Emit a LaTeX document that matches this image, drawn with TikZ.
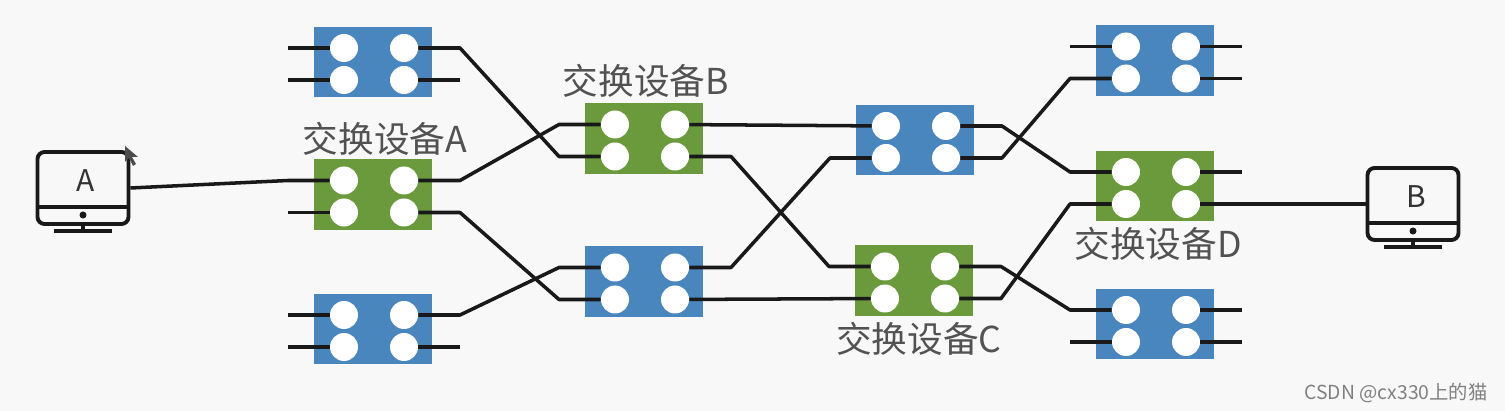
\documentclass[tikz,border=0pt]{standalone}
\usepackage{fontspec}
\setmainfont{Noto Sans CJK SC}
\definecolor{bluebox}{HTML}{4A86BE}
\definecolor{greenbox}{HTML}{6A9A3C}
\definecolor{paper}{HTML}{F8F8F8}
\tikzset{
  switchbox/.style={
    shape = rectangle,
    minimum width = 2.36cm,
    minimum height = 1.42cm,
    inner sep = 0pt
  },
  port/.style={
    shape = circle,
    minimum size = 0.56cm,
    inner sep = 0pt,
    fill = white
  },
  wire/.style={
    line width = 2pt,
    black!90,
    line join = round
  },
  monitor/.style={
    shape = rectangle,
    draw = black!90,
    line width = 2.2pt,
    rounded corners = 4pt,
    minimum width = 1.82cm,
    minimum height = 1.44cm,
    inner sep = 0pt
  },
  pcpart/.style={
    line width = 2.2pt,
    black!90
  },
  devlabel/.style={
    font = \fontsize{20.3}{20.3}\selectfont,
    text = black!68,
    inner sep = 0pt
  },
  pclabel/.style={
    font = \fontsize{17}{17}\selectfont,
    text = black!80,
    inner sep = 0pt
  },
}
\begin{document}
\begin{tikzpicture}[x=0.02cm,y=-0.02cm]
  \useasboundingbox[fill=paper] (0,0) rectangle (1505,411);
  \foreach \n/\x/\y/\c in {s1/373/62/bluebox,swA/373/194.5/greenbox,s3/373/329/bluebox,
    swB/644/138.5/greenbox,s5/644/281.5/bluebox,s6/915/140/bluebox,swC/914/280.5/greenbox,
    s8/1155/60.5/bluebox,swD/1155/186/greenbox,s10/1155/324/bluebox}{
    \node[switchbox,fill=\c] (\n) at (\x,\y) {};
    \node[port] (\n-lu) at (\x-29,\y-14) {};
    \node[port] (\n-ld) at (\x-29,\y+18) {};
    \node[port] (\n-ru) at (\x+31,\y-14) {};
    \node[port] (\n-rd) at (\x+31,\y+18) {};
    \coordinate (\n-lus) at (\x-85,\y-14);
    \coordinate (\n-lds) at (\x-85,\y+18);
    \coordinate (\n-rus) at (\x+87,\y-14);
    \coordinate (\n-rds) at (\x+87,\y+18);
  }
  % free stubs
  \foreach \a/\b in {s1-lu/s1-lus,s1-ld/s1-lds,s1-rd/s1-rds,swA-ld/swA-lds,s3-lu/s3-lus,s3-ld/s3-lds,s3-rd/s3-rds,
    s8-lu/s8-lus,s8-ru/s8-rus,s8-rd/s8-rds,swD-ru/swD-rus,s10-ld/s10-lds,s10-ru/s10-rus,s10-rd/s10-rds}{
    \draw[wire] (\a) -- (\b);
  }
  % links between switches
  \draw[wire] (s1-ru) -- (s1-rus) -- (swB-lds) -- (swB-ld);
  \draw[wire] (swA-ru) -- (swA-rus) -- (swB-lus) -- (swB-lu);
  \draw[wire] (swA-rd) -- (swA-rds) -- (s5-lds) -- (s5-ld);
  \draw[wire] (s3-ru) -- (s3-rus) -- (s5-lus) -- (s5-lu);
  \draw[wire] (swB-ru) -- (s6-lu);
  \draw[wire] (swB-rd) -- (swB-rds) -- (swC-lus) -- (swC-lu);
  \draw[wire] (s5-ru) -- (s5-rus) -- (s6-lds) -- (s6-ld);
  \draw[wire] (s5-rd) -- (swC-ld);
  \draw[wire] (s6-ru) -- (s6-rus) -- (swD-lus) -- (swD-lu);
  \draw[wire] (s6-rd) -- (s6-rds) -- (s8-lds) -- (s8-ld);
  \draw[wire] (swC-ru) -- (swC-rus) -- (s10-lus) -- (s10-lu);
  \draw[wire] (swC-rd) -- (swC-rds) -- (swD-lds) -- (swD-ld);
  % the two computers
  \foreach \p/\x/\y/\t in {pcA/83/188/A,pcB/1413/204/B}{
    \node[monitor] (\p) at (\x,\y) {};
    \node[pclabel] (\p-name) at (\x+3,\y-7) {\t};
    \coordinate (\p-l) at (\x-46,\y+19);
    \coordinate (\p-r) at (\x+46,\y+19);
    \coordinate (\p-foot) at (\x,\y+43);
    \coordinate (\p-footl) at (\x-29,\y+43);
    \coordinate (\p-footr) at (\x+29,\y+43);
    \draw[pcpart,line width=1.8pt] (\p-l) -- (\p-r);
    \draw[pcpart] (\p.south) -- (\p-foot);
    \draw[pcpart] (\p-footl) -- (\p-footr);
    \node[circle,fill=black!90,minimum size=0.14cm,inner sep=0pt] (\p-dot) at (\x,\y+27) {};
  }
  \draw[wire] (swA-lu) -- (swA-lus) -- (pcA.east);
  \draw[wire] (swD-rd) -- (swD-rds) -- (pcB.west);
  % labels
  \node[devlabel] (labA) at (385,139) {交换设备A};
  \node[devlabel] (labB) at (646,81) {交换设备B};
  \node[devlabel] (labC) at (919,339) {交换设备C};
  \node[devlabel] (labD) at (1158,244) {交换设备D};
  \node[inner sep=0pt,text=black!50,font=\fontsize{11}{11}\selectfont] (mark) at (1396,393) {CSDN @cx330上的猫};
  % mouse pointer
  \fill[black!70] (125,146) -- (125,162) -- (129,158) -- (133,166) -- (136,164) -- (132,157) -- (138,157) -- cycle;
\end{tikzpicture}
\end{document}
